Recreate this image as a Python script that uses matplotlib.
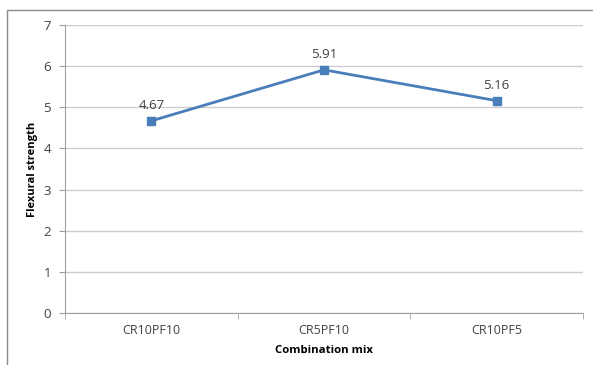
import matplotlib
matplotlib.use("Agg")
import matplotlib.pyplot as plt
from matplotlib.patches import Rectangle

categories = ["CR10PF10", "CR5PF10", "CR10PF5"]
flexural_strength = [4.67, 5.91, 5.16]
y_ticks = [0, 1, 2, 3, 4, 5, 6, 7]

W, H = 593, 365
fig = plt.figure(figsize=(W / 100, H / 100), dpi=100)
fig.patch.set_facecolor("white")

# outer chart frame
fig.patches.append(Rectangle((7 / W, -0.1), 1.2, (H - 10) / H + 0.1,
                             transform=fig.transFigure, fill=False,
                             edgecolor="#8c8c8c", linewidth=1.0))

ax = fig.add_axes([65 / W, (H - 313) / H, (583 - 65) / W, (313 - 25) / H])

x = list(range(len(categories)))
ax.plot(x, flexural_strength, color="#4a7ebb", linewidth=2.0,
        marker="s", markersize=5.5, zorder=3)
for xi, v in zip(x, flexural_strength):
    ax.annotate(f"{v:.2f}", (xi, v), xytext=(0, 6.5), textcoords="offset points",
                ha="center", va="bottom", fontsize=9.5, color="#404040",
                family="Open Sans")

ax.set_xlim(-0.5, len(categories) - 0.5)
ax.set_ylim(0, 7)
ax.set_yticks(y_ticks)
ax.set_xticks(x)
ax.set_xticklabels(categories, family="Open Sans", fontsize=9, color="#404040")
ax.set_xticks([i + 0.5 for i in range(-1, len(categories))], minor=True)
ax.tick_params(axis="x", which="major", length=0, pad=8)
ax.tick_params(axis="x", which="minor", length=4, color="#a0a0a0", direction="out")
ax.tick_params(axis="y", length=4, color="#a0a0a0", pad=6, labelsize=9.5,
               labelcolor="#404040")
for lab in ax.get_yticklabels():
    lab.set_family("Open Sans")

ax.grid(axis="y", color="#cccccc", linewidth=1.0)
ax.set_axisbelow(True)
for s in ("top", "right"):
    ax.spines[s].set_visible(False)
for s in ("left", "bottom"):
    ax.spines[s].set_color("#a0a0a0")

ax.set_xlabel("Combination mix", family="Open Sans", fontsize=8.2,
              fontweight="bold", labelpad=6)
ax.set_ylabel("Flexural strength", family="Open Sans", fontsize=8,
              fontweight="bold", labelpad=4)

fig.savefig("out.png", dpi=100)
